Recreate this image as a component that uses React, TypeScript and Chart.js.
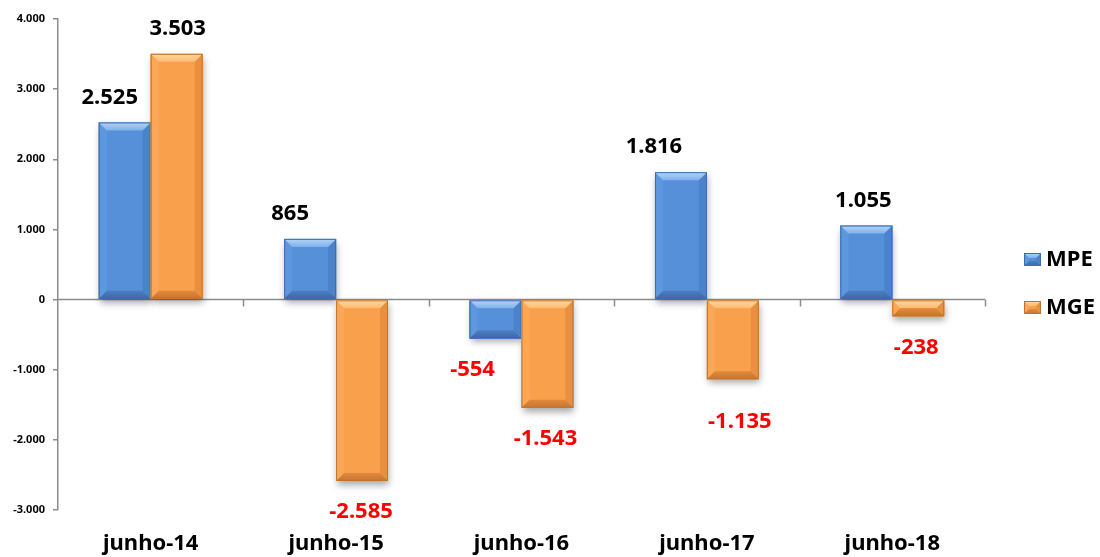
import React, { useEffect, useRef } from "react";
import { Chart, registerables } from "chart.js";

Chart.register(...registerables);

const categories = ["junho-14", "junho-15", "junho-16", "junho-17", "junho-18"];
const seriesNames = ["MPE", "MGE"];
const mpeValues = [2525, 865, -554, 1816, 1055];
const mgeValues = [3503, -2585, -1543, -1135, -238];
const yTicksMin = -3000;
const yTicksMax = 4000;
const yTicksStep = 1000;

// label nudges (style only)
const labelDx = [
  [-15, -20, -23, -27, -3],
  [1, -1, -2, 7, -2],
];
const labelDyExtra = [
  [0, 0, 0, 0, 0],
  [0, 0, 0, 12, 0],
];

const palette = [
  { base: "#5590D9", topA: "#B3D5F7", topB: "#7EB1EC", left: "#5D98DF", right: "#4B83CB", botA: "#4A7EC2", botB: "#3C68A6", border: "#3F6CAB" },
  { base: "#F9A04C", topA: "#FFD9A3", topB: "#FDBA6E", left: "#FBA758", right: "#E88F40", botA: "#E08A3D", botB: "#C57431", border: "#BF7434" },
];

const FONT = "'Noto Sans', 'DejaVu Sans', sans-serif";

function fmt(n: number): string {
  const s = Math.abs(n).toString().replace(/\B(?=(\d{3})+(?!\d))/g, ".");
  return (n < 0 ? "-" : "") + s;
}

function poly(ctx: CanvasRenderingContext2D, pts: number[][], fill: any) {
  ctx.beginPath();
  ctx.moveTo(pts[0][0], pts[0][1]);
  for (let i = 1; i < pts.length; i++) ctx.lineTo(pts[i][0], pts[i][1]);
  ctx.closePath();
  ctx.fillStyle = fill;
  ctx.fill();
}

function drawBevel(ctx: CanvasRenderingContext2D, l: number, t: number, r: number, b: number, c: any, maxB = 8) {
  const w = r - l;
  const h = b - t;
  const bv = Math.max(1, Math.min(maxB, w / 2, h / 2));
  ctx.save();
  ctx.fillStyle = c.base;
  ctx.fillRect(l, t, w, h);
  // left
  poly(ctx, [[l, t], [l + bv, t + bv], [l + bv, b - bv], [l, b]], c.left);
  // right
  poly(ctx, [[r, t], [r, b], [r - bv, b - bv], [r - bv, t + bv]], c.right);
  // top
  const gt = ctx.createLinearGradient(0, t, 0, t + bv);
  gt.addColorStop(0, c.topA);
  gt.addColorStop(1, c.topB);
  poly(ctx, [[l, t], [r, t], [r - bv, t + bv], [l + bv, t + bv]], gt);
  // bottom
  const gb = ctx.createLinearGradient(0, b - bv, 0, b);
  gb.addColorStop(0, c.botA);
  gb.addColorStop(1, c.botB);
  poly(ctx, [[l, b], [r, b], [r - bv, b - bv], [l + bv, b - bv]], gb);
  // outline
  ctx.strokeStyle = c.border;
  ctx.lineWidth = 1;
  ctx.strokeRect(l + 0.5, t + 0.5, w - 1, h - 1);
  ctx.restore();
}

function barRect(el: any) {
  const p = el.getProps(["x", "y", "base", "width"], true);
  const l = p.x - p.width / 2;
  const r = p.x + p.width / 2;
  const t = Math.min(p.y, p.base);
  const b = Math.max(p.y, p.base);
  return { l, r, t, b, x: p.x };
}

const bevelPlugin = {
  id: "bevelBars",
  beforeDatasetsDraw(chart: any) {
    const { ctx, chartArea, scales } = chart;
    const y0 = scales.y.getPixelForValue(0);
    ctx.save();
    ctx.strokeStyle = "#8C8C8C";
    ctx.lineWidth = 1.5;
    ctx.beginPath();
    ctx.moveTo(chartArea.left, y0);
    ctx.lineTo(chartArea.right, y0);
    const n = categories.length;
    const step = (chartArea.right - chartArea.left) / n;
    for (let i = 1; i <= n; i++) {
      const x = Math.round(chartArea.left + i * step) + 0.5;
      ctx.moveTo(x, y0);
      ctx.lineTo(x, y0 + 7);
    }
    ctx.stroke();
    ctx.restore();
    // shadows
    chart.data.datasets.forEach((_: any, di: number) => {
      const meta = chart.getDatasetMeta(di);
      meta.data.forEach((el: any) => {
        const r = barRect(el);
        ctx.save();
        ctx.shadowColor = "rgba(0,0,0,0.35)";
        ctx.shadowBlur = 7;
        ctx.shadowOffsetX = 1;
        ctx.shadowOffsetY = 4;
        ctx.fillStyle = palette[di].base;
        ctx.fillRect(r.l, r.t, r.r - r.l, r.b - r.t);
        ctx.restore();
      });
    });
  },
  afterDatasetsDraw(chart: any) {
    const { ctx } = chart;
    chart.data.datasets.forEach((ds: any, di: number) => {
      const meta = chart.getDatasetMeta(di);
      meta.data.forEach((el: any, i: number) => {
        const r = barRect(el);
        drawBevel(ctx, r.l, r.t, r.r, r.b, palette[di]);
        const v = ds.data[i];
        ctx.save();
        ctx.font = `bold 22px ${FONT}`;
        ctx.textAlign = "center";
        ctx.textBaseline = "middle";
        ctx.fillStyle = v >= 0 ? "#000000" : "#FF0000";
        const ty = v >= 0 ? r.t - 25 : r.b + 31 + labelDyExtra[di][i];
        ctx.fillText(fmt(v), r.x + labelDx[di][i], ty);
        ctx.restore();
      });
    });
  },
  afterDraw(chart: any) {
    const { ctx } = chart;
    const lx = 1024;
    const ys = [260, 308];
    chart.data.datasets.forEach((ds: any, di: number) => {
      const cy = ys[di];
      drawBevel(ctx, lx, cy - 7, lx + 17, cy + 6, palette[di], 5);
      ctx.save();
      ctx.font = `bold 22px ${FONT}`;
      ctx.textAlign = "left";
      ctx.textBaseline = "middle";
      ctx.fillStyle = "#000000";
      ctx.fillText(ds.label, 1046, cy);
      ctx.restore();
    });
  },
};

export default function App() {
  const ref = useRef<HTMLCanvasElement | null>(null);
  useEffect(() => {
    if (!ref.current) return;
    const chart = new Chart(ref.current, {
      type: "bar",
      data: {
        labels: categories,
        datasets: [
          { label: seriesNames[0], data: mpeValues, backgroundColor: palette[0].base, borderWidth: 0 },
          { label: seriesNames[1], data: mgeValues, backgroundColor: palette[1].base, borderWidth: 0 },
        ],
      },
      options: {
        animation: false,
        responsive: false,
        maintainAspectRatio: false,
        layout: { padding: { left: 0, top: 19, right: 115, bottom: 0 } },
        datasets: { bar: { categoryPercentage: 0.56, barPercentage: 1.0 } },
        plugins: { legend: { display: false }, tooltip: { enabled: false } },
        scales: {
          x: {
            grid: { display: false, drawTicks: false },
            border: { display: false },
            ticks: { color: "#000", font: { family: FONT, size: 22, weight: "bold" }, padding: 21, maxRotation: 0 },
            afterFit: (s: any) => { s.height = 47; },
          },
          y: {
            min: yTicksMin,
            max: yTicksMax,
            grid: { display: true, drawOnChartArea: false, drawTicks: true, tickLength: 5, color: "#8C8C8C", lineWidth: 1.5 },
            border: { display: true, color: "#8C8C8C", width: 1.5 },
            ticks: {
              stepSize: yTicksStep,
              color: "#000",
              padding: 8,
              font: { family: FONT, size: 11, weight: "bold" },
              callback: (v: any) => fmt(Number(v)),
            },
            afterFit: (s: any) => { s.width = 58; },
          },
        },
      },
      plugins: [bevelPlugin],
    });
    return () => chart.destroy();
  }, []);
  return (
    <div style={{ position: "absolute", left: 0, top: 0, width: 1100, height: 557, background: "#fff" }}>
      <canvas ref={ref} width={1100} height={557} style={{ display: "block" }} />
    </div>
  );
}
